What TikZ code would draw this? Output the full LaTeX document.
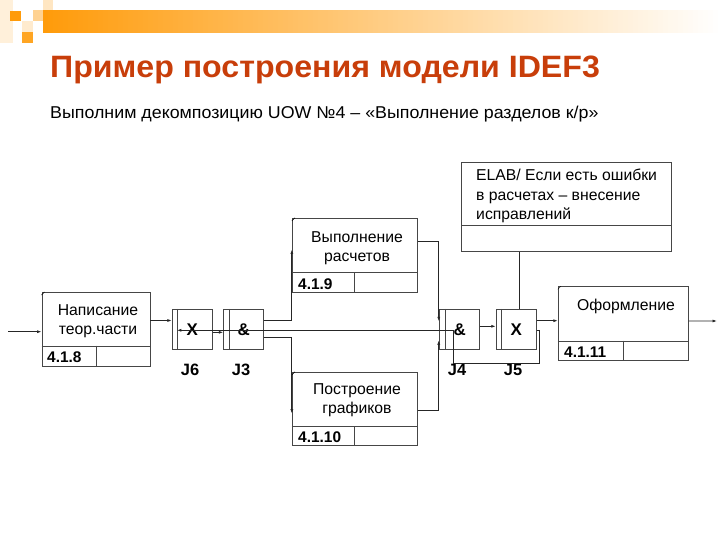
\documentclass[tikz,border=0pt]{standalone}
\usepackage{fontspec}
\setmainfont{Liberation Sans}
\newfontfamily\ttlfont[FakeStretch=1.04]{Liberation Sans}
\usetikzlibrary{arrows.meta,calc}
\usepackage{xcolor}
\definecolor{hdorange}{RGB}{255,155,10}
\definecolor{ttlred}{RGB}{200,62,10}
\definecolor{lngray}{RGB}{70,70,70}
\tikzset{
    uow/.style={
        draw=lngray,line width=.9bp,inner sep=0pt,
        minimum width=#1
    },
    junc/.style={
        draw=lngray,line width=.9bp,inner sep=0pt,
        minimum width=40bp,minimum height=40bp,
        font=\fontsize{17}{19}\selectfont\bfseries
    },
    actxt/.style={
        align=center,inner sep=0pt,
        font=\fontsize{15.8}{19.5}\selectfont
    },
    num/.style={
        anchor=west,inner sep=0pt,
        font=\fontsize{15.5}{17}\selectfont\bfseries
    },
    jlbl/.style={
        inner sep=0pt,font=\fontsize{16.5}{18}\selectfont\bfseries
    },
    arr/.style={
        -{Latex[length=4.5bp,width=3bp]},line width=.8bp,draw=black!85
    },
    ln/.style={
        line width=.8bp,draw=black!85
    }
}

\begin{document}
\begin{tikzpicture}[x=1bp,y=-1bp]

\useasboundingbox (0,0) rectangle (720,540);
\fill[white] (0,0) rectangle (720,540);

\fill[hdorange!15] (0,0) rectangle (13,43);
\fill[hdorange] (10,11) rectangle (21,21);
\fill[hdorange!45] (33,10) rectangle (43,21);
\fill[hdorange!25] (43,0) rectangle (53,10);
\fill[hdorange!20] (22,21) rectangle (33,32);
\fill[hdorange!90] (22,32) rectangle (33,43);
\foreach \i in {0,...,135}{
    \pgfmathsetmacro\p{100-\i*0.74}
    \fill[hdorange!\p] (43+\i*5,10) rectangle (48.6+\i*5,33);
}

\node[anchor=base west,inner sep=0pt,text=ttlred,
font=\fontsize{31}{35}\ttlfont\bfseries]
(title) at (50,77.5) {Пример построения модели IDEF3};

\node[anchor=base west,inner sep=0pt,font=\fontsize{17.2}{20}\ttlfont]
(subtitle) at (50,119)
{Выполним декомпозицию UOW №4 – «Выполнение разделов к/р»};

\node[uow=108bp,minimum height=74bp] (b8) at (96,329.5) {};
\node[uow=125bp,minimum height=74.4bp] (b9) at (354.8,255.5) {};
\node[uow=125bp,minimum height=72.7bp] (b10) at (354.8,408.6) {};
\node[uow=130bp,minimum height=74bp] (b11) at (623.3,323.7) {};
\node[uow=210bp,minimum height=89.4bp] (elab) at (566.7,207) {};

\draw[draw=lngray,line width=.9bp]
([yshift=21bp]b8.south west) -- ([yshift=21bp]b8.south east)
(96.7,345.5) -- (b8.south -| 96.7,0);
\draw[draw=lngray,line width=.9bp]
([yshift=20.4bp]b9.south west) -- ([yshift=20.4bp]b9.south east)
(354,272.3) -- (b9.south -| 354,0);
\draw[draw=lngray,line width=.9bp]
([yshift=19bp]b10.south west) -- ([yshift=19bp]b10.south east)
(354,426) -- (b10.south -| 354,0);
\draw[draw=lngray,line width=.9bp]
([yshift=20bp]b11.south west) -- ([yshift=20bp]b11.south east)
(623.3,340.7) -- (b11.south -| 623.3,0);
\draw[draw=lngray,line width=.9bp]
([yshift=26.7bp]elab.south west) -- ([yshift=26.7bp]elab.south east);

\foreach \b in {b8,b9,b10,b11}
    \draw[line width=.5bp] ([yshift=-3bp]\b.north west) -- ([xshift=3bp]\b.north west);

\node[actxt] (b8t) at (98,321.5) {Написание\\теор.части};
\node[actxt] (b9t) at (357,248) {Выполнение\\расчетов};
\node[actxt] (b10t) at (357,400.5) {Построение\\графиков};
\node[actxt] (b11t) at (626,306) {Оформление};
\node[actxt,align=left,anchor=west] (elabt) at (476,196)
{ELAB/ Если есть ошибки\\в расчетах – внесение\\исправлений};

\node[num] (b8n) at (47,357) {4.1.8};
\node[num] (b9n) at (298,284) {4.1.9};
\node[num] (b10n) at (298,437) {4.1.10};
\node[num] (b11n) at (564,352) {4.1.11};

\node[junc] (j6) at (192.3,329.3) {X};
\node[junc] (j3) at (243.7,329.3) {\&};
\node[junc] (j4) at (459.7,329.3) {\&};
\node[junc] (j5) at (516.2,329.3) {X};
\foreach \j in {j6,j3,j4,j5}
    \draw[draw=lngray,line width=.9bp]
    ([xshift=6bp]\j.north west) -- ([xshift=6bp]\j.south west);

\node[jlbl] (j6l) at (190,370) {J6};
\node[jlbl] (j3l) at (241,370) {J3};
\node[jlbl] (j4l) at (457,370) {J4};
\node[jlbl] (j5l) at (513,370) {J5};

\coordinate (in) at (8,331.7);
\coordinate (out) at (717,321);
\coordinate (loopR) at (539.5,363);
\coordinate (loopL) at (453,363);

\draw[arr] (in) -- (in -| b8.west);
\draw[arr] ([yshift=9bp]b8.east) -- ([yshift=9bp]b8.east -| j6.west);
\draw[arr] ([yshift=-3bp]j6.east) -- ([yshift=-3bp]j6.east -| j3.west);
\draw[arr] ([yshift=9bp]j3.east) -| ([yshift=6bp]b9.west);
\draw[arr] ([yshift=-8bp]j3.east) -| ([yshift=-5bp]b10.west);
\draw[arr] ([yshift=14bp]b9.east) -| ([xshift=-.5bp,yshift=8bp]j4.west);
\draw[arr] ([yshift=-1.4bp]b10.east) -| ([xshift=-.5bp,yshift=-11bp]j4.west);
\draw[arr] ([yshift=3bp]j4.east) -- ([yshift=3bp]j4.east -| j5.west);
\draw[arr] ([yshift=8.6bp]j5.east) -- ([yshift=8.6bp]j5.east -| b11.west);
\draw[arr] ([yshift=2.7bp]b11.east) -- (out);
\draw[ln] ([xshift=3bp]j5.north) -- ([xshift=3bp]j5.north |- elab.south);
\draw[arr] ([yshift=-1bp]j5.east) -| (loopR) -- (loopL)
|- ([xshift=5bp,yshift=-1bp]j6.west);

\end{tikzpicture}
\end{document}
